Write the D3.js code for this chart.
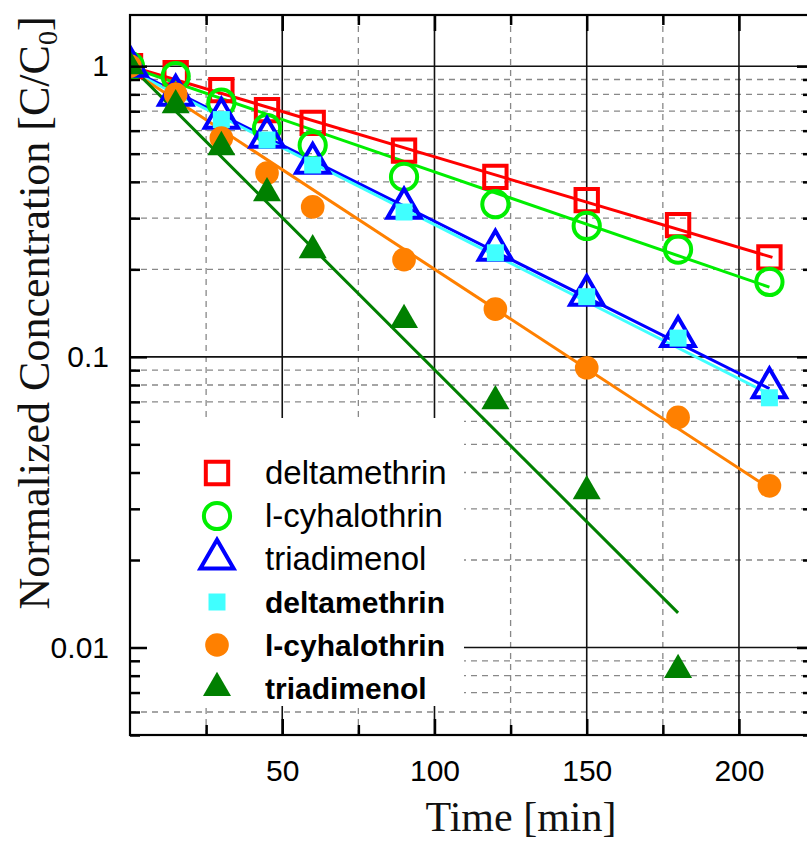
<!DOCTYPE html>
<html>
<head>
<meta charset="utf-8">
<script src="https://cdn.jsdelivr.net/npm/d3@7"></script>
<style>
  body { margin: 0; background: #fff; }
  svg { display: block; }
</style>
</head>
<body>
<svg id="chart" width="807" height="845"></svg>
<script>
// sampling times [min]
const times = [0, 15, 30, 45, 60, 90, 120, 150, 180, 210];

// C/C0, open markers
const deltaOpen = [1.0, 0.946, 0.827, 0.706, 0.638, 0.512, 0.416, 0.346, 0.284, 0.220];
const cyhaloOpen = [1.0, 0.924, 0.75, 0.612, 0.535, 0.416, 0.335, 0.282, 0.234, 0.181];
const triadOpen = [1.0, 0.795, 0.663, 0.570, 0.464, 0.325, 0.233, 0.163, 0.1176, 0.0783];
// filled markers
const deltaFilled = [1.0, 0.79, 0.655, 0.557, 0.457, 0.315, 0.228, 0.161, 0.116, 0.0723];
const cyhaloFilled = [1.0, 0.80, 0.566, 0.429, 0.328, 0.216, 0.146, 0.0917, 0.0619, 0.0360];
const triadFilled = [1.0, 0.734, 0.527, 0.366, 0.233, 0.134, 0.0704, 0.0345, 0.00838];

// first-order fits: C/C0 = c0 * exp(-k t), drawn up to fitEnd
const fitC0 = [1.0, 0.993, 0.977, 0.965, 0.97, 1.005];
const fitK = [0.00718, 0.0083, 0.01205, 0.0122, 0.01578, 0.02409];
const fitEnd = [211, 210, 210, 211, 208, 180];

const labels = ["deltamethrin", "l-cyhalothrin", "triadimenol", "deltamethrin", "l-cyhalothrin", "triadimenol"];

const xMajor = [50, 100, 150, 200];
const xMinor = [25, 75, 125, 175];
const yMajor = [1, 0.1, 0.01];

const series = [
  { values: deltaOpen, shape: d3.symbolSquare, size: 500, color: "#ff0000", open: true, bold: false },
  { values: cyhaloOpen, shape: d3.symbolCircle, size: 540, color: "#00ee00", open: true, bold: false },
  { values: triadOpen, shape: d3.symbolTriangle, size: 480, color: "#0000ff", open: true, bold: false },
  { values: deltaFilled, shape: d3.symbolSquare, size: 289, color: "#40ffff", open: false, bold: true },
  { values: cyhaloFilled, shape: d3.symbolCircle, size: 440, color: "#ff8000", open: false, bold: true },
  { values: triadFilled, shape: d3.symbolTriangle, size: 340, color: "#008000", open: false, bold: true }
];

const svg = d3.select("#chart");
const pLeft = 130, pTop = 15, pRight = 809, pBottom = 735;

const x = d3.scaleLinear().domain([0, 223]).range([pLeft, pRight]);
const y = d3.scaleLog().domain([0.005, 1.5]).range([pBottom, pTop]);

const yMinor = y.ticks().filter(v => !yMajor.some(m => Math.abs(m - v) < 1e-9));

svg.append("defs").append("clipPath").attr("id", "plotclip")
  .append("rect").attr("x", pLeft).attr("y", pTop)
  .attr("width", pRight - pLeft).attr("height", pBottom - pTop);

// grid
const grid = svg.append("g");
grid.selectAll(".vmin").data(xMinor).join("line")
  .attr("x1", d => x(d)).attr("x2", d => x(d)).attr("y1", pTop).attr("y2", pBottom)
  .attr("stroke", "#888").attr("stroke-width", 1.3).attr("stroke-dasharray", "6,5");
grid.selectAll(".hmin").data(yMinor).join("line")
  .attr("x1", pLeft).attr("x2", pRight).attr("y1", d => y(d)).attr("y2", d => y(d))
  .attr("stroke", "#888").attr("stroke-width", 1.3).attr("stroke-dasharray", "6,5");
grid.selectAll(".vmaj").data(xMajor).join("line")
  .attr("x1", d => x(d)).attr("x2", d => x(d)).attr("y1", pTop).attr("y2", pBottom)
  .attr("stroke", "#111").attr("stroke-width", 1.6);
grid.selectAll(".hmaj").data(yMajor).join("line")
  .attr("x1", pLeft).attr("x2", pRight).attr("y1", d => y(d)).attr("y2", d => y(d))
  .attr("stroke", "#111").attr("stroke-width", 1.6);

// legend background hides the grid behind it
const legX = 217, legY0 = 473, legStep = 43;
svg.append("rect").attr("x", pLeft).attr("y", 418).attr("width", 464 - pLeft).attr("height", 288)
  .attr("fill", "#fff");

// fit lines
const plot = svg.append("g").attr("clip-path", "url(#plotclip)");
series.forEach((s, i) => {
  const pts = [0, fitEnd[i]].map(t => [t, fitC0[i] * Math.exp(-fitK[i] * t)]);
  plot.append("path")
    .attr("d", d3.line().x(d => x(d[0])).y(d => y(d[1]))(pts))
    .attr("fill", "none").attr("stroke", s.color).attr("stroke-width", 3);
});

// markers
series.forEach(s => {
  const sym = d3.symbol().type(s.shape).size(s.size);
  plot.append("g").selectAll("path").data(s.values).join("path")
    .attr("transform", (d, j) => `translate(${x(times[j])},${y(d)})`)
    .attr("d", sym)
    .attr("fill", s.open ? "none" : s.color)
    .attr("stroke", s.open ? s.color : "none")
    .attr("stroke-width", 4);
});

// axes: ticks point inward
const tickFont = "'Liberation Sans', Arial, sans-serif";
const ax = (g, axis) => {
  g.call(axis);
  g.select(".domain").remove();
  g.selectAll(".tick line").attr("stroke", "#000").attr("stroke-width", 2.5);
  return g;
};
ax(svg.append("g").attr("transform", `translate(0,${pBottom})`),
  d3.axisBottom(x).tickValues(xMajor).tickSize(-16).tickPadding(25))
  .selectAll("text").attr("font-size", 30).attr("font-family", tickFont).attr("fill", "#000");
ax(svg.append("g").attr("transform", `translate(0,${pBottom})`),
  d3.axisBottom(x).tickValues(xMinor).tickSize(-10).tickFormat(""));
ax(svg.append("g").attr("transform", `translate(0,${pTop})`),
  d3.axisTop(x).tickValues(xMajor).tickSize(-16).tickFormat(""));
ax(svg.append("g").attr("transform", `translate(0,${pTop})`),
  d3.axisTop(x).tickValues(xMinor).tickSize(-10).tickFormat(""));
ax(svg.append("g").attr("transform", `translate(${pLeft},0)`),
  d3.axisLeft(y).tickValues(yMajor).tickSize(-17).tickPadding(21).tickFormat(d => String(d)))
  .selectAll("text").attr("font-size", 30).attr("font-family", tickFont).attr("fill", "#000");
ax(svg.append("g").attr("transform", `translate(${pLeft},0)`),
  d3.axisLeft(y).tickValues(yMinor).tickSize(-10).tickFormat(""));
ax(svg.append("g").attr("transform", `translate(${pRight},0)`),
  d3.axisRight(y).tickValues(yMajor).tickSize(-12).tickFormat(""));
ax(svg.append("g").attr("transform", `translate(${pRight},0)`),
  d3.axisRight(y).tickValues(yMinor).tickSize(-6).tickFormat(""));

// frame
svg.append("rect").attr("x", pLeft).attr("y", pTop).attr("width", pRight - pLeft).attr("height", pBottom - pTop)
  .attr("fill", "none").attr("stroke", "#000").attr("stroke-width", 2.2);

// legend
series.forEach((s, i) => {
  const ly = legY0 + i * legStep;
  svg.append("path")
    .attr("transform", `translate(${legX},${ly})`)
    .attr("d", d3.symbol().type(s.shape).size(s.size)())
    .attr("fill", s.open ? "none" : s.color)
    .attr("stroke", s.open ? s.color : "none")
    .attr("stroke-width", 4);
  svg.append("text")
    .attr("x", 265).attr("y", ly + 11)
    .attr("font-family", tickFont)
    .attr("font-size", s.bold ? 30 : 33)
    .attr("font-weight", s.bold ? "bold" : "normal")
    .attr("fill", "#000")
    .text(labels[i]);
});

// axis titles
const serif = "'Liberation Serif', 'Times New Roman', serif";
svg.append("text").attr("x", 521).attr("y", 831).attr("text-anchor", "middle")
  .attr("font-family", serif).attr("font-size", 42).attr("fill", "#111").text("Time [min]");

const yt = svg.append("text")
  .attr("transform", "translate(49,313) rotate(-90)")
  .attr("text-anchor", "middle")
  .attr("font-family", serif).attr("font-size", 44).attr("fill", "#111");
yt.append("tspan").text("Normalized Concentration [C/C");
yt.append("tspan").attr("font-size", 28).attr("dy", 8).text("0");
yt.append("tspan").attr("dy", -8).text("]");
</script>
</body>
</html>
